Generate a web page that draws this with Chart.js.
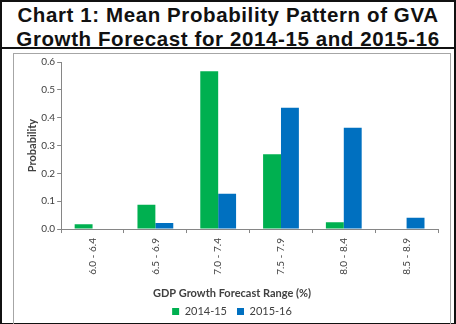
<!DOCTYPE html>
<html>
<head>
<meta charset="utf-8">
<script src="https://cdn.jsdelivr.net/npm/chart.js@4.4.1/dist/chart.umd.min.js"></script>
<style>
  html, body { margin: 0; padding: 0; background: #fff; }
  #frame {
    position: absolute; left: 0; top: 0;
    width: 452px; height: 321px;
    border: 2px solid #111;
    box-sizing: content-box;
  }
  #title {
    position: absolute; left: 0; top: 0; width: 452px; height: 47px;
    border-bottom: 2px solid #111;
    font-family: "Liberation Sans", Arial, sans-serif;
    font-weight: bold; font-size: 20.5px; line-height: 24px; letter-spacing: 0.6px;
    text-align: center; color: #111;
    padding-top: 1px; box-sizing: border-box;
  }
  #box {
    position: absolute; left: 11px; top: 51px; width: 436px; height: 270px;
    border: 1px solid #a6a6a6; border-bottom: none;
  }
  #box canvas { display: block; }
</style>
</head>
<body>
<div id="frame">
  <div id="title">Chart 1: Mean Probability Pattern of GVA<br>Growth Forecast for 2014-15 and 2015-16</div>
  <div id="box"><canvas id="chart" width="436" height="270"></canvas></div>
</div>
<script>
// Forecast ranges and mean probabilities
const ranges = ['6.0 - 6.4', '6.5 - 6.9', '7.0 - 7.4', '7.5 - 7.9', '8.0 - 8.4', '8.5 - 8.9'];
const fy2015 = [0.017, 0.087, 0.567, 0.269, 0.024, 0.0];
const fy2016 = [0.002, 0.022, 0.127, 0.436, 0.364, 0.041];
const yTicks = [0.0, 0.1, 0.2, 0.3, 0.4, 0.5, 0.6];

const axisGrey = '#868686';
const textCol = '#404040';
const font = 'Lato, "Open Sans", sans-serif';

new Chart(document.getElementById('chart'), {
    type: 'bar',
    data: {
        labels: ranges,
        datasets: [
            { label: '2014-15', data: fy2015, backgroundColor: '#00b050', barPercentage: 1.0, categoryPercentage: 0.57 },
            { label: '2015-16', data: fy2016, backgroundColor: '#0070c0', barPercentage: 1.0, categoryPercentage: 0.57 }
        ]
    },
    options: {
        responsive: false,
        animation: false,
        layout: { padding: { left: 12, right: 12, top: 8, bottom: -3 } },
        plugins: {
            // axis title drawn by the title plugin so it centres on the whole box
            title: {
                display: true, position: 'bottom', weight: 500,
                text: 'GDP Growth Forecast Range (%)',
                color: textCol, font: { family: font, size: 11, weight: 'bold' },
                padding: { top: 7, bottom: -4 }
            },
            legend: {
                position: 'bottom',
                labels: {
                    boxWidth: 7, boxHeight: 7, padding: 10,
                    color: textCol, font: { family: font, size: 11 }
                }
            },
            tooltip: { enabled: false }
        },
        scales: {
            x: {
                grid: { offset: true, drawOnChartArea: false, drawTicks: true, tickLength: 4, color: axisGrey },
                border: { color: axisGrey },
                ticks: {
                    minRotation: 90, maxRotation: 90, padding: 5,
                    color: textCol, font: { family: font, size: 10 }
                }
            },
            y: {
                min: 0, max: 0.6,
                afterBuildTicks: (axis) => { axis.ticks = yTicks.map(v => ({ value: v })); },
                grid: { drawOnChartArea: false, drawTicks: true, tickLength: 4, color: axisGrey },
                border: { color: axisGrey },
                ticks: {
                    padding: 2, color: textCol, font: { family: font, size: 10 },
                    callback: (v) => Number(v).toFixed(1)
                },
                title: {
                    display: true, text: 'Probability',
                    color: textCol, font: { family: font, size: 11, weight: 'bold' },
                    padding: { top: 0, bottom: 0 }
                }
            }
        }
    }
});
</script>
</body>
</html>
